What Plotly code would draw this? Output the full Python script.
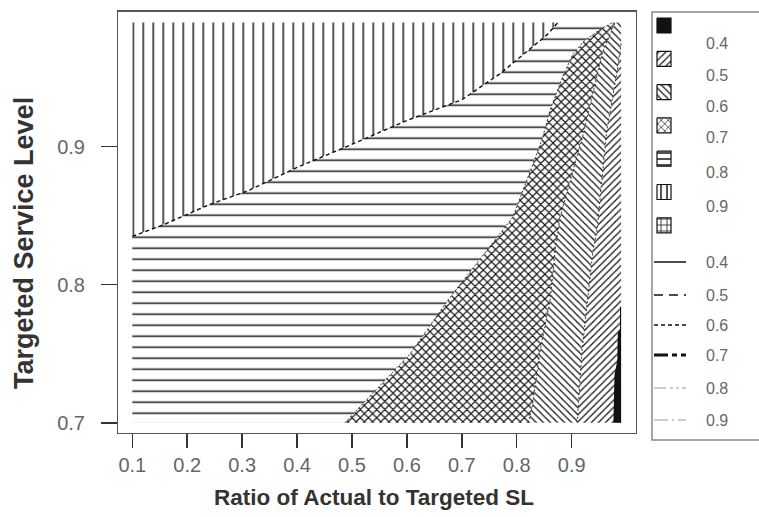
import plotly.graph_objects as go

# ---------------- data ----------------
x_min, x_max = 0.10, 0.99
y_min, y_max = 0.70, 0.99

# boundaries between level regions
b89_x = [0.10, 0.16, 0.24, 0.31, 0.40, 0.49, 0.60, 0.70, 0.77, 0.855, 0.875]
b89_y = [0.835, 0.844, 0.858, 0.868, 0.885, 0.900, 0.919, 0.934, 0.953, 0.981, 0.99]

b78_x = [0.487, 0.606, 0.675, 0.793, 0.846, 0.861, 0.884, 0.901, 0.921, 0.952, 0.975]
b78_y = [0.700, 0.750, 0.789, 0.849, 0.905, 0.927, 0.951, 0.966, 0.976, 0.985, 0.99]

b67_x = [0.821, 0.828, 0.843, 0.861, 0.870, 0.879, 0.921, 0.956, 0.979]
b67_y = [0.700, 0.711, 0.753, 0.789, 0.825, 0.849, 0.909, 0.968, 0.99]

b56_x = [0.910, 0.919, 0.939, 0.946, 0.964, 0.983, 0.99]
b56_y = [0.700, 0.753, 0.825, 0.839, 0.912, 0.955, 0.975]

b45_x = [0.976, 0.978, 0.983, 0.984, 0.988, 0.988, 0.99]
b45_y = [0.700, 0.735, 0.745, 0.765, 0.768, 0.784, 0.784]

levels = ["0.4", "0.5", "0.6", "0.7", "0.8", "0.9"]
x_ticks = [0.1, 0.2, 0.3, 0.4, 0.5, 0.6, 0.7, 0.8, 0.9]
y_ticks = [0.7, 0.8, 0.9]

# ---------------- figure ----------------
W, H = 759, 517
PL, PR, PT, PB = 118.3, 635.7, 11.7, 432.7
FG = "#1a1a1a"

fig = go.Figure()


def region(xs, ys, shape, size, solidity, solid=False, fg=FG):
    kw = dict(x=xs, y=ys, mode="lines", fill="toself", line=dict(width=0),
              hoverinfo="skip", showlegend=False)
    if solid:
        kw["fillcolor"] = "#111"
    else:
        kw["fillcolor"] = "white"
        kw["fillpattern"] = dict(shape=shape, size=size, solidity=solidity,
                                 fgcolor=fg, bgcolor="white", fillmode="replace")
    fig.add_trace(go.Scatter(**kw))


# level 0.9 : vertical lines
region(b89_x + [x_min], b89_y + [y_max], "|", 10, 0.15)
# level 0.8 : horizontal lines
region([x_min] + b78_x + b89_x[::-1], [y_min] + b78_y + b89_y[::-1], "-", 11, 0.14)
# level 0.7 : cross hatch
region(b67_x + b78_x[::-1], b67_y + b78_y[::-1], "x", 5.8, 0.36, fg="#151515")
# level 0.6 : back-slash hatch
region(b56_x + [x_max] + b67_x[::-1], b56_y + [y_max] + b67_y[::-1], "\\", 5, 0.26)
# level 0.5 : slash hatch
region([x_max] + b56_x[::-1], [y_min] + b56_y[::-1], "/", 5, 0.26)
# level 0.4 : solid
region(b45_x + [x_max], b45_y + [y_min], "", 0, 0, solid=True)

# contour lines along boundaries
fig.add_trace(go.Scatter(x=b89_x, y=b89_y, mode="lines", hoverinfo="skip", showlegend=False,
                         line=dict(color="#111", width=1.4, dash="4px,3px")))
for bx, by in [(b78_x, b78_y), (b67_x, b67_y), (b56_x, b56_y)]:
    fig.add_trace(go.Scatter(x=bx, y=by, mode="lines", hoverinfo="skip", showlegend=False,
                             line=dict(color="#333", width=1, dash="2px,2px")))

# ---------------- legend (drawn in pixel space on a helper axis) ----------------
LX0 = 640
sw_shapes = ["", "/", "\\", "x", "-", "|", "+"]
sw_left, sw_w, sw_h = 657, 14, 15
sw_top0, sw_step = 18, 33.3
for k, shp in enumerate(sw_shapes):
    t = sw_top0 + k * sw_step
    xs = [sw_left, sw_left + sw_w, sw_left + sw_w, sw_left, sw_left]
    ys = [t, t, t + sw_h, t + sw_h, t]
    kw = dict(x=xs, y=ys, xaxis="x2", yaxis="y2", mode="lines", fill="toself",
              line=dict(color="#111", width=1.2), hoverinfo="skip", showlegend=False)
    if shp == "":
        kw["fillcolor"] = "#111"
    else:
        kw["fillcolor"] = "white"
        kw["fillpattern"] = dict(shape=shp, size=5 if shp in "/\\x" else 6,
                                 solidity=0.25, fgcolor=FG, bgcolor="white")
    fig.add_trace(go.Scatter(**kw))

fill_label_y = [43, 75, 106, 137, 172, 206]
for lab, yy in zip(levels, fill_label_y):
    fig.add_annotation(x=704, y=yy, xref="x2", yref="y2", text=lab, showarrow=False,
                       xanchor="left", yanchor="middle",
                       font=dict(family="Liberation Sans, Arial", size=16, color="#666"))

line_styles = [
    dict(color="#111", width=1.5, dash="solid"),
    dict(color="#111", width=1.5, dash="9px,6px"),
    dict(color="#111", width=1.5, dash="4px,3px"),
    dict(color="#111", width=3, dash="14px,4px,5px,4px"),
    dict(color="#999", width=1.2, dash="12px,4px,3px,3px,3px,3px"),
    dict(color="#999", width=1.2, dash="14px,4px,2px,4px"),
]
line_label_y = [262, 295, 325, 355, 388, 420]
for lab, yy, st in zip(levels, line_label_y, line_styles):
    fig.add_trace(go.Scatter(x=[654, 686], y=[yy, yy], xaxis="x2", yaxis="y2", mode="lines",
                             line=st, hoverinfo="skip", showlegend=False))
    fig.add_annotation(x=704, y=yy, xref="x2", yref="y2", text=lab, showarrow=False,
                       xanchor="left", yanchor="middle",
                       font=dict(family="Liberation Sans, Arial", size=16, color="#666"))

# legend box (left, top and bottom edges; the right edge is outside the picture)
fig.add_shape(type="path", xref="x2", yref="y2",
              path="M 800 12 L 652 12 L 652 440 L 800 440",
              line=dict(color="#888", width=1.5))

# axis titles
fig.add_annotation(x=(PL + PR) / 2 / W - 0.004, y=1 - 497 / H, xref="paper", yref="paper",
                   text="<b>Ratio of Actual to Targeted SL</b>", showarrow=False,
                   xanchor="center", yanchor="middle",
                   font=dict(family="Liberation Sans, Arial", size=22.5, color="#333"))
fig.add_annotation(x=24 / W, y=1 - 243 / H, xref="paper", yref="paper",
                   text="<b>Targeted Service Level</b>", showarrow=False, textangle=-90,
                   xanchor="center", yanchor="middle",
                   font=dict(family="Liberation Sans, Arial", size=27, color="#333"))

tickfont = dict(family="Liberation Sans, Arial", size=20, color="#666")
fig.update_layout(
    width=W, height=H, template="none",
    margin=dict(l=0, r=0, t=0, b=0),
    paper_bgcolor="white", plot_bgcolor="white",
    showlegend=False,
    xaxis=dict(domain=[PL / W, PR / W], range=[0.0745, 1.0166], tickvals=x_ticks,
               ticktext=[str(v) for v in x_ticks], ticks="outside", ticklen=14,
               tickwidth=1.5, tickcolor="#333", showgrid=False, zeroline=False,
               showline=True, mirror=True, linecolor="#555", linewidth=1.3,
               tickfont=tickfont, automargin=False, anchor="y", ticklabelstandoff=0),
    yaxis=dict(domain=[1 - PB / H, 1 - PT / H], range=[0.6928, 0.9978], tickvals=y_ticks,
               ticktext=[str(v) for v in y_ticks], ticks="outside", ticklen=16,
               tickwidth=1.5, tickcolor="#333", showgrid=False, zeroline=False,
               showline=True, mirror=True, linecolor="#555", linewidth=1.3,
               tickfont=tickfont, automargin=False, anchor="x", ticklabelstandoff=12),
    xaxis2=dict(domain=[LX0 / W, 1], range=[LX0, W], visible=False, anchor="y2",
                fixedrange=True),
    yaxis2=dict(domain=[0, 1], range=[H, 0], visible=False, anchor="x2", fixedrange=True),
)

fig.write_html("out.html", config={"displayModeBar": False, "staticPlot": True},
               post_script="document.body.style.margin='0';document.body.style.overflow='hidden';")
